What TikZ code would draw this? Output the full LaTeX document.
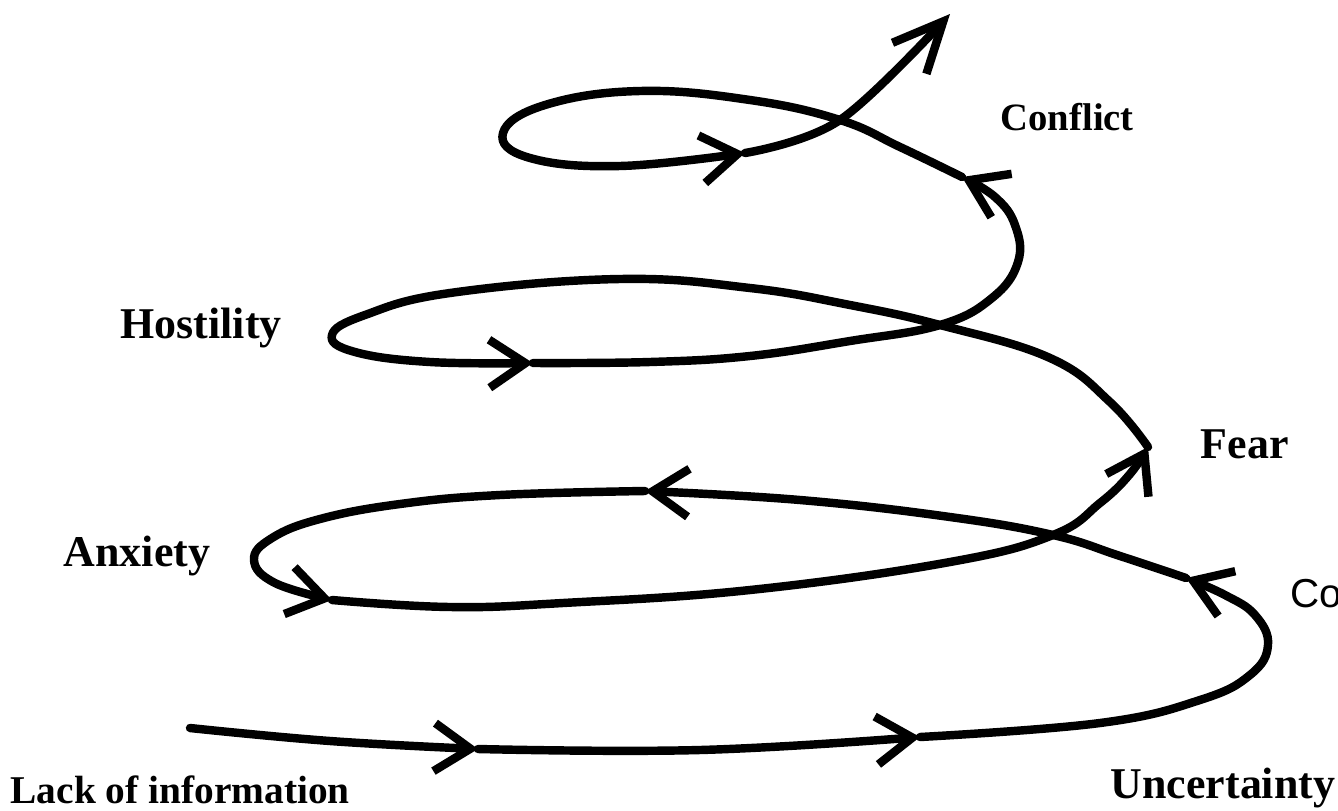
\documentclass[tikz,border=0pt]{standalone}
\usepackage{fontspec}
\setmainfont{Liberation Serif}
\newfontfamily\cutsans{Liberation Sans}
\usepackage{tikz}
\usetikzlibrary{arrows.meta}
\tikzset{
  stage/.style={anchor=base west, inner sep=0pt,
                font=\fontsize{12.5}{15}\selectfont\bfseries},
  spiral/.style={line width=2.4pt, line cap=round, line join=round},
  flow/.style={spiral, -{Straight Barb[length=3.6mm,width=4.8mm]}},
  lastflow/.style={spiral, -{Straight Barb[length=5mm,width=4.6mm]}},
}

\begin{document}
\begin{tikzpicture}[x=0.1mm, y=-0.1mm]
  \path[use as bounding box, fill=white] (0,0) rectangle (1338,810);
  % Arrow points and crossings on the spiral
  \coordinate (a1) at (478,749);
  \coordinate (a2) at (920,737);
  \coordinate (a3) at (1186,578);
  \coordinate (a4) at (645,491);
  \coordinate (a5) at (332,600);
  \coordinate (a6) at (1148,447);
  \coordinate (a7) at (533,363);
  \coordinate (a8) at (962,177);
  \coordinate (a9) at (745,153);
  \coordinate (top) at (950,14);
  \coordinate (x1) at (1053,535);
  \coordinate (x2) at (940,325);
  \coordinate (x3) at (840,120);
  % Spiral, piece by piece from arrow to arrow
  \draw[flow] plot[smooth, tension=0.7] coordinates {(190,728) (330,741) (a1)};
  \draw[flow] plot[smooth, tension=0.7] coordinates {(a1) (700,750) (a2)};
  \draw[flow] plot[smooth, tension=0.7] coordinates {(a2) (1100,723) (1200,700) (1250,675) (1268,645) (1255,615) (1225,595) (a3)};
  \draw[flow] plot[smooth, tension=0.7] coordinates {(a3) (1120,556) (x1) (950,517) (800,500) (a4)};
  \draw[flow] plot[smooth, tension=0.7] coordinates {(a4) (500,495) (400,504) (320,519) (272,538) (254,560) (275,583) (a5)};
  \draw[flow] plot[smooth, tension=0.7] coordinates {(a5) (450,607) (563,603) (750,590) (950,562) (x1) (1100,503) (1130,474) (a6)};
  \draw[flow] plot[smooth, tension=0.7] coordinates {(a6) (1110,402) (1050,358) (x2) (850,305) (750,288) (620,279) (450,293) (365,315) (332,335) (355,352) (430,362) (a7)};
  \draw[flow] plot[smooth, tension=0.7] coordinates {(a7) (650,362) (750,356) (850,341) (x2) (992,298) (1018,262) (1015,225) (995,197) (a8)};
  \draw[flow] plot[smooth, tension=0.7] coordinates {(a8) (900,147) (x3) (750,100) (640,91) (545,105) (503,133) (530,158) (620,166) (a9)};
  \draw[lastflow] plot[smooth, tension=0.6] coordinates {(a9) (x3) (top)};
  % Stage labels
  \node[stage, font=\fontsize{11}{13}\selectfont\bfseries] (conflict) at (1000,130) {Conflict};
  \node[stage] (hostility) at (120,338) {Hostility};
  \node[stage] (fear) at (1200,458) {Fear};
  \node[stage] (anxiety) at (63,566) {Anxiety};
  \node[stage] (uncertainty) at (1110,798) {Uncertainty};
  \node[stage, font=\fontsize{11.2}{13}\selectfont\bfseries] (lack) at (10,803) {Lack of information};
  \node[anchor=base west, inner sep=0pt, font=\cutsans\fontsize{11.5}{14}\selectfont] (co) at (1290,607) {Co};
\end{tikzpicture}
\end{document}
